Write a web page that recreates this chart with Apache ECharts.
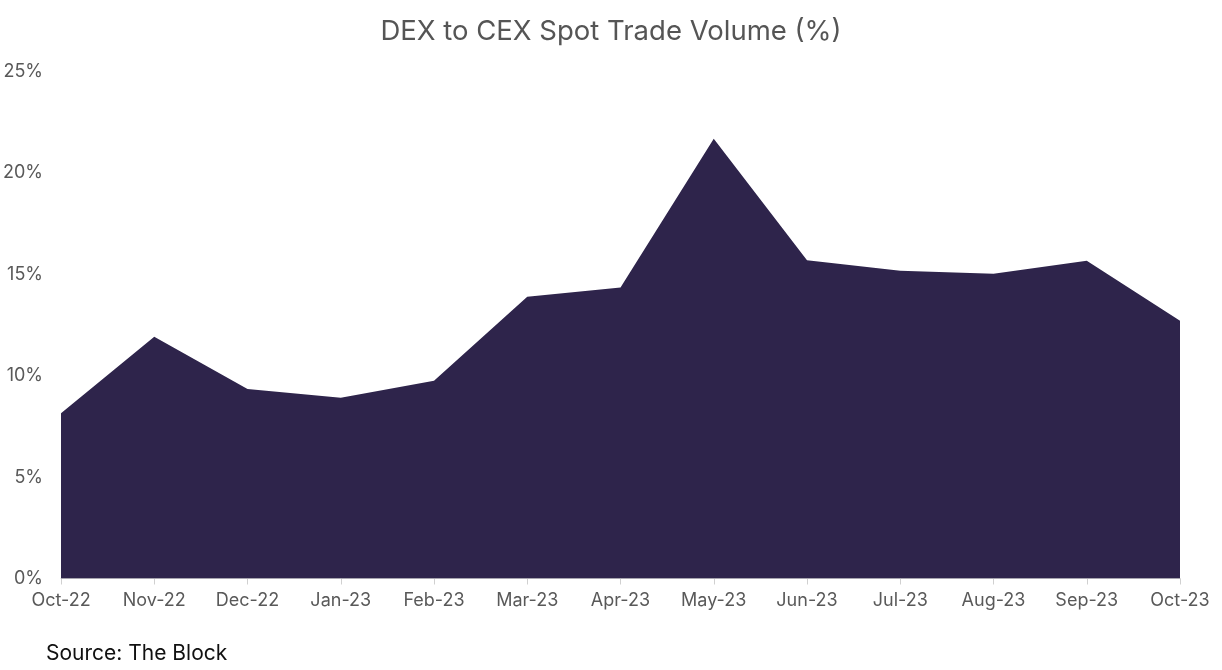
<!DOCTYPE html>
<html>
<head>
<meta charset="utf-8">
<script src="https://cdn.jsdelivr.net/npm/echarts@6/dist/echarts.min.js"></script>
<style>
html,body{margin:0;padding:0;background:#fff;}
#chart{width:1222px;height:670px;}
</style>
</head>
<body>
<div id="chart"></div>
<script>
const categories = ['Oct-22','Nov-22','Dec-22','Jan-23','Feb-23','Mar-23','Apr-23','May-23','Jun-23','Jul-23','Aug-23','Sep-23','Oct-23'];
const dexToCex = [8.15, 11.92, 9.35, 8.91, 9.75, 13.89, 14.35, 21.68, 15.69, 15.18, 15.03, 15.67, 12.71];
const titleText = 'DEX to CEX Spot Trade Volume (%)';
const sourceText = 'Source: The Block';
const FONT = 'Inter, sans-serif';

const chart = echarts.init(document.getElementById('chart'));
chart.setOption({
  backgroundColor: '#ffffff',
  animation: false,
  textStyle: { fontFamily: FONT },
  title: [{
    text: titleText,
    left: 'center',
    top: 13,
    textStyle: { fontSize: 27.5, fontWeight: 'normal', color: '#555555', fontFamily: FONT }
  }, {
    text: sourceText,
    left: 41,
    top: 638,
    textStyle: { fontSize: 21, fontWeight: 'normal', color: '#111111', fontFamily: FONT }
  }],
  grid: { left: 60, right: 42, top: 71.5, bottom: 91.5, containLabel: false },
  xAxis: {
    type: 'category',
    data: categories,
    boundaryGap: false,
    axisLine: { lineStyle: { color: '#d0d0d0', width: 1 } },
    axisTick: { show: true, alignWithLabel: true, length: 6, lineStyle: { color: '#d0d0d0' } },
    axisLabel: { color: '#595959', fontSize: 18, margin: 13, interval: 0 },
    splitLine: { show: false }
  },
  yAxis: {
    type: 'value',
    min: 0,
    max: 25,
    interval: 5,
    axisLine: { show: false },
    axisTick: { show: false },
    splitLine: { show: false },
    axisLabel: { color: '#595959', fontSize: 18, margin: 18, formatter: '{value}%' }
  },
  series: [{
    type: 'line',
    data: dexToCex,
    symbol: 'none',
    lineStyle: { width: 0 },
    areaStyle: { color: '#2e244b', opacity: 1 },
    itemStyle: { color: '#2e244b' }
  }]
});
</script>
</body>
</html>
